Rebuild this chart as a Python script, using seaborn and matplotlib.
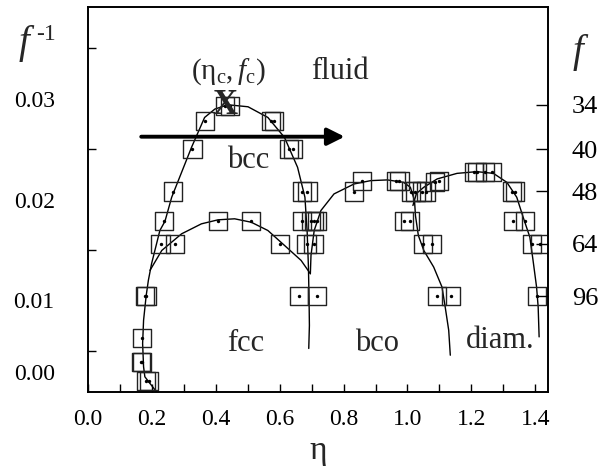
import seaborn as sns
import pandas as pd
import matplotlib.pyplot as plt
import matplotlib.ticker as ticker

# measured state points (eta, 1/f)
sq_eta = [0.182, 0.191, 0.166, 0.169, 0.170,
          0.179, 0.183, 0.661, 0.718, 1.093, 1.136, 1.404,
          0.227, 0.272, 0.601, 0.684, 0.706, 1.048, 1.077, 1.389, 1.414,
          0.239, 0.407, 0.511, 0.669, 0.697, 0.708, 0.718, 0.988, 1.009, 1.331, 1.368,
          0.267, 0.669, 0.687, 0.833, 1.010, 1.025, 1.046, 1.058, 1.326, 1.336,
          0.857, 0.965, 0.975, 1.087, 1.100,
          1.207, 1.217, 1.243, 1.264,
          0.327, 0.630, 0.641,
          0.366, 0.573, 0.581,
          0.428, 0.445]
sq_finv = [0.0020, 0.0020, 0.0039, 0.0039, 0.0063,
           0.0104, 0.0104, 0.0104, 0.0104, 0.0104, 0.0104, 0.0104,
           0.0156, 0.0156, 0.0156, 0.0156, 0.0156, 0.0156, 0.0156, 0.0156, 0.0156,
           0.0179, 0.0179, 0.0179, 0.0179, 0.0179, 0.0179, 0.0179, 0.0179, 0.0179, 0.0179, 0.0179,
           0.0208, 0.0208, 0.0208, 0.0208, 0.0208, 0.0208, 0.0208, 0.0208, 0.0208, 0.0208,
           0.0218, 0.0218, 0.0218, 0.0217, 0.0218,
           0.0227, 0.0227, 0.0227, 0.0227,
           0.0250, 0.0250, 0.0250,
           0.0278, 0.0278, 0.0278,
           0.0293, 0.0293]

# phase boundaries
bcc_eta = [0.215, 0.194, 0.178, 0.174, 0.171, 0.174, 0.182, 0.189, 0.199, 0.225,
           0.241, 0.262, 0.324, 0.365, 0.397, 0.438, 0.501, 0.563, 0.615, 0.656,
           0.679, 0.686, 0.690, 0.692, 0.693, 0.691]
bcc_finv = [0.0009, 0.00175, 0.00241, 0.0034, 0.00571, 0.00802, 0.01043, 0.01198, 0.01363, 0.01693,
            0.01785, 0.02023, 0.02518, 0.02815, 0.02898, 0.02941, 0.02921, 0.02815, 0.02617, 0.0232,
            0.02023, 0.0168, 0.0133, 0.0100, 0.0075, 0.00522]

fcc_eta = [0.194, 0.231, 0.293, 0.355, 0.407, 0.459, 0.511, 0.563, 0.615, 0.667, 0.696]
fcc_finv = [0.01297, 0.01495, 0.0166, 0.01759, 0.01799, 0.01809, 0.01775, 0.01693, 0.01545, 0.01396, 0.01264]

bco_eta = [0.696, 0.698, 0.708, 0.729, 0.770, 0.833, 0.885, 0.937, 0.988, 1.009,
           1.022, 1.025, 1.034, 1.051, 1.082, 1.108, 1.118, 1.129, 1.134]
bco_finv = [0.01264, 0.01446, 0.01693, 0.01891, 0.02056, 0.02155, 0.02188, 0.02195, 0.02171, 0.02122,
            0.0199, 0.0184, 0.01644, 0.01495, 0.0133, 0.01132, 0.00934, 0.00703, 0.00455]

dia_eta = [1.017, 1.028, 1.051, 1.093, 1.155, 1.217, 1.269, 1.311, 1.342, 1.362,
           1.383, 1.393, 1.404, 1.409, 1.412]
dia_finv = [0.01941, 0.0206, 0.02122, 0.02205, 0.0226, 0.02277, 0.0226, 0.02171, 0.02023, 0.01825,
            0.01627, 0.01396, 0.01132, 0.00934, 0.00637]

f_ticks = [34, 40, 48, 64, 96]
left_tick_pos = [0.0029, 0.01, 0.02, 0.03]
left_tick_labels = ["0.00", "0.01", "0.02", "0.03"]


def set_plot_params():
    sns.set_style("ticks")
    plt.rcParams.update({
        "font.family": "Liberation Serif",
        "mathtext.fontset": "custom",
        "mathtext.rm": "Liberation Serif",
        "mathtext.it": "Liberation Serif:italic",
        "axes.linewidth": 1.2,
        "axes.edgecolor": "black",
        "xtick.direction": "in",
        "ytick.direction": "in",
        "xtick.color": "black",
        "ytick.color": "black",
    })


set_plot_params()

points = pd.DataFrame({"eta": sq_eta, "finv": sq_finv})
curves = pd.concat([
    pd.DataFrame({"eta": bcc_eta, "finv": bcc_finv, "phase": "bcc"}),
    pd.DataFrame({"eta": fcc_eta, "finv": fcc_finv, "phase": "fcc"}),
    pd.DataFrame({"eta": bco_eta, "finv": bco_finv, "phase": "bco"}),
    pd.DataFrame({"eta": dia_eta, "finv": dia_finv, "phase": "diam"}),
], ignore_index=True)

fig = plt.figure(figsize=(6.11, 4.76), dpi=100)
ax = fig.add_axes([0.144, 0.1765, 0.753, 0.8085])

sns.lineplot(data=curves, x="eta", y="finv", units="phase", estimator=None, sort=False,
             color="black", linewidth=1.0, ax=ax)
sns.scatterplot(data=points, x="eta", y="finv", marker="s", s=170, facecolor="none",
                edgecolor="#222222", linewidth=1.0, ax=ax, zorder=3)
sns.scatterplot(data=points, x="eta", y="finv", s=6, color="black", linewidth=0, ax=ax, zorder=4)

ax.set_xlim(0, 1.44)
ax.set_ylim(0.0009, 0.0391)

ax.xaxis.set_major_locator(ticker.MultipleLocator(0.2))
ax.xaxis.set_minor_locator(ticker.MultipleLocator(0.1))
ax.xaxis.set_major_formatter(ticker.FormatStrFormatter("%.1f"))
ax.tick_params(axis="x", which="major", length=6, width=1, labelsize=17, pad=12, top=False)
ax.tick_params(axis="x", which="minor", length=6, width=1, top=False)

ax.set_yticks(left_tick_pos, left_tick_labels)
ax.yaxis.set_minor_locator(ticker.MultipleLocator(0.005))
ax.tick_params(axis="y", which="major", length=0, labelsize=17, pad=24)
ax.tick_params(axis="y", which="minor", length=6, width=1)

ax2 = ax.twinx()
ax2.set_ylim(ax.get_ylim())
ax2.set_yticks([1 / f for f in f_ticks], [str(f) for f in f_ticks])
ax2.tick_params(axis="y", length=9, width=1, direction="in", labelsize=19, pad=17)
ax2.yaxis.set_minor_locator(ticker.NullLocator())

ax.set_xlabel("η", fontsize=24, labelpad=4)
ax.set_ylabel("")

# arrow and phase labels
ax.annotate("", xy=(0.812, 0.02624), xytext=(0.158, 0.02624),
            arrowprops=dict(arrowstyle="-|>", color="black", lw=2.8, mutation_scale=26))
ax.text(0.79, 0.0320, "fluid", fontsize=22, ha="center", va="baseline")
ax.text(0.44, 0.0320, r"$(\mathrm{η}_{\mathrm{c}},f_{\mathrm{c}})$", fontsize=21, ha="center", va="baseline")
ax.text(0.50, 0.0231, "bcc", fontsize=22, ha="center", va="baseline")
ax.text(0.494, 0.0050, "fcc", fontsize=22, ha="center", va="baseline")
ax.text(0.906, 0.0050, "bco", fontsize=22, ha="center", va="baseline")
ax.text(1.29, 0.00525, "diam.", fontsize=22, ha="center", va="baseline")
ax.text(0.43, 0.0293, "X", fontsize=25, fontweight="bold", ha="center", va="center", zorder=5)

fig.text(19 / 611, 1 - 53 / 476, "f", fontsize=28, style="italic", ha="left", va="baseline")
fig.text(36 / 611, 1 - 40 / 476, "-1", fontsize=17, ha="left", va="baseline")
fig.text(573 / 611, 1 - 62 / 476, "f", fontsize=28, style="italic", ha="left", va="baseline")

sns.despine(ax=ax, top=False, right=False)
fig.savefig("out.png", dpi=100)
